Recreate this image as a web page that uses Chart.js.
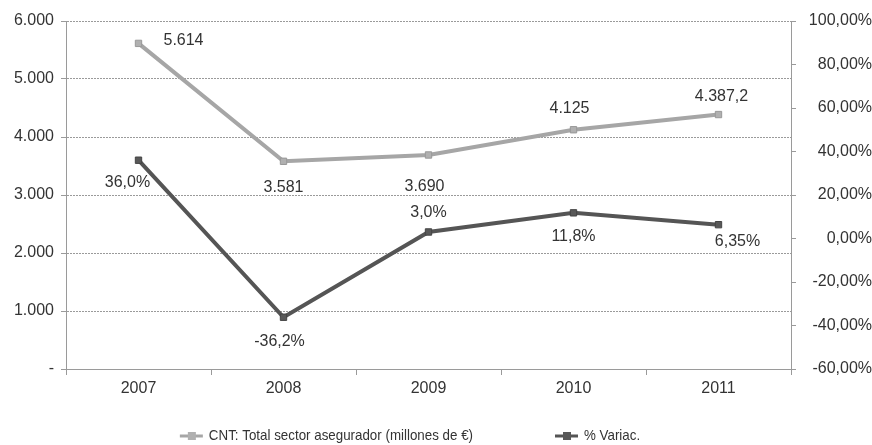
<!DOCTYPE html>
<html>
<head>
<meta charset="utf-8">
<script src="https://cdn.jsdelivr.net/npm/chart.js@4.4.1/dist/chart.umd.min.js"></script>
<style>
  html, body { margin: 0; padding: 0; background: #fff; }
</style>
</head>
<body>
<canvas id="chart" width="872" height="445"></canvas>
<script>
'use strict';
const years = ['2007', '2008', '2009', '2010', '2011'];
const totalSector = [5614, 3581, 3690, 4125, 4387.2];
const totalSectorText = ['5.614', '3.581', '3.690', '4.125', '4.387,2'];
const variacion = [36.0, -36.2, 3.0, 11.8, 6.35];
const variacionText = ['36,0%', '-36,2%', '3,0%', '11,8%', '6,35%'];

const FONT = '"Liberation Sans", Arial, sans-serif';
const TEXT = '#333333';
const AXIS = '#9a9a9a';

// value labels next to each point (offsets in px from the point)
const pointLabels = {
    id: 'pointLabels',
    afterDatasetsDraw(chart) {
        const ctx = chart.ctx;
        chart.data.datasets.forEach(function (ds, i) {
            const meta = chart.getDatasetMeta(i);
            meta.data.forEach(function (pt, j) {
                const off = ds.labelOffsets[j];
                ctx.save();
                ctx.font = '16px ' + FONT;
                ctx.fillStyle = TEXT;
                ctx.textAlign = 'center';
                ctx.textBaseline = 'middle';
                ctx.fillText(ds.valueText[j], pt.x + off[0], pt.y + off[1]);
                ctx.restore();
            });
        });
    }
};

// legend drawn below the axis: line + square marker, then condensed text
const bottomLegend = {
    id: 'bottomLegend',
    afterDraw(chart) {
        const ctx = chart.ctx;
        const y = 436;
        const gap = 82;
        const squeeze = 0.89;
        ctx.save();
        ctx.font = '15px ' + FONT;
        ctx.textBaseline = 'middle';
        const items = chart.data.datasets.map(function (ds) {
            return { ds: ds, w: 23 + 6 + ctx.measureText(ds.label).width * squeeze };
        });
        const total = items.reduce(function (s, it) { return s + it.w; }, 0) + gap * (items.length - 1);
        let x = 410 - total / 2;
        items.forEach(function (it) {
            ctx.strokeStyle = it.ds.borderColor;
            ctx.lineWidth = 3;
            ctx.beginPath();
            ctx.moveTo(x, y);
            ctx.lineTo(x + 23, y);
            ctx.stroke();
            ctx.fillStyle = it.ds.pointBackgroundColor;
            ctx.fillRect(x + 8, y - 4, 8, 8);
            ctx.fillStyle = TEXT;
            ctx.save();
            ctx.translate(x + 29, y);
            ctx.scale(squeeze, 1);
            ctx.fillText(it.ds.label, 0, 0);
            ctx.restore();
            x += it.w + gap;
        });
        ctx.restore();
    }
};

new Chart(document.getElementById('chart'), {
    type: 'line',
    data: {
        labels: years,
        datasets: [
            {
                label: 'CNT: Total sector asegurador (millones de €)',
                data: totalSector,
                valueText: totalSectorText,
                labelOffsets: [[45, -3], [0, 26], [-4, 32], [-4, -21], [3, -18]],
                yAxisID: 'y',
                borderColor: '#a6a6a6',
                borderWidth: 4,
                pointStyle: 'rect',
                pointRadius: 4.5,
                pointBackgroundColor: '#b0b0b0',
                pointBorderColor: '#999999',
                pointBorderWidth: 1,
                tension: 0
            },
            {
                label: '% Variac.',
                data: variacion,
                valueText: variacionText,
                labelOffsets: [[-11, 22], [-4, 24], [0, -19], [0, 24], [19, 17]],
                yAxisID: 'y1',
                borderColor: '#555555',
                borderWidth: 4,
                pointStyle: 'rect',
                pointRadius: 4.5,
                pointBackgroundColor: '#585858',
                pointBorderColor: '#444444',
                pointBorderWidth: 1,
                tension: 0
            }
        ]
    },
    options: {
        responsive: false,
        animation: false,
        devicePixelRatio: 1,
        layout: { padding: { top: 21, bottom: 46, left: 0, right: 0 } },
        plugins: {
            legend: { display: false },
            tooltip: { enabled: false }
        },
        scales: {
            x: {
                offset: true,
                grid: { drawOnChartArea: false, drawTicks: true, tickLength: 6, color: AXIS, offset: true },
                border: { color: AXIS },
                ticks: { color: TEXT, font: { size: 16, family: FONT }, padding: 4 },
                afterFit(scale) { scale.height = 30; }
            },
            y: {
                position: 'left',
                min: 0,
                max: 6000,
                ticks: {
                    stepSize: 1000,
                    color: TEXT,
                    font: { size: 16, family: FONT },
                    padding: 7,
                    callback: function (v) { return v === 0 ? '-' : v.toLocaleString('de-DE'); }
                },
                grid: { color: AXIS, tickLength: 5 },
                border: { color: AXIS, dash: [2, 1] },
                afterFit(scale) { scale.width = 66; }
            },
            y1: {
                position: 'right',
                min: -60,
                max: 100,
                ticks: {
                    stepSize: 20,
                    color: TEXT,
                    font: { size: 16, family: FONT },
                    padding: 3,
                    crossAlign: 'far',
                    callback: function (v) { return v.toFixed(2).replace('.', ',') + '%'; }
                },
                grid: { drawOnChartArea: false, color: AXIS, tickLength: 5 },
                border: { color: AXIS },
                afterFit(scale) { scale.width = 81; }
            }
        }
    },
    plugins: [pointLabels, bottomLegend]
});
</script>
</body>
</html>
